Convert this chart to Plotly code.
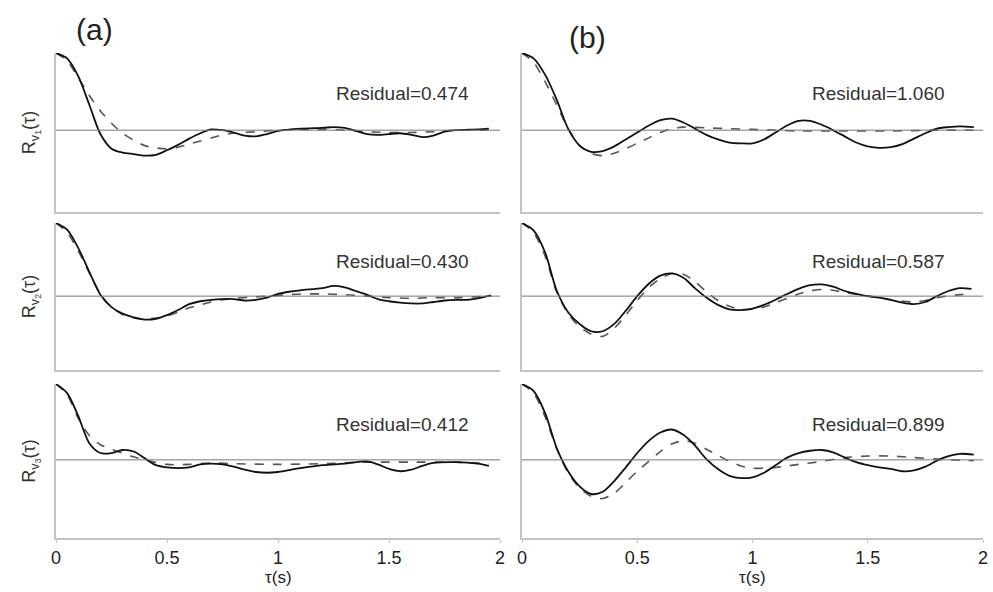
import plotly.graph_objects as go

# Lag axis (seconds) shared by the early/late sample points
tau_a1 = [0, 0.05, 0.10, 0.15, 0.20, 0.25, 0.30, 0.35, 0.40, 0.45, 0.50, 0.55, 0.60, 0.65, 0.70,
          0.75, 0.80, 0.85, 0.90, 0.95, 1.00, 1.10, 1.20, 1.25, 1.30, 1.35, 1.40, 1.45, 1.50,
          1.55, 1.60, 1.65, 1.70, 1.75, 1.80, 1.90, 1.95]
meas_a1 = [1.0, 0.93, 0.70, 0.33, -0.05, -0.24, -0.29, -0.31, -0.33, -0.32, -0.26, -0.19, -0.11,
           -0.04, 0.01, 0.0, -0.03, -0.07, -0.08, -0.05, -0.01, 0.02, 0.03, 0.04, 0.03, -0.01,
           -0.05, -0.06, -0.05, -0.04, -0.06, -0.09, -0.07, -0.02, 0.0, 0.01, 0.02]
tau_a1_fit = [0, 0.05, 0.10, 0.15, 0.20, 0.25, 0.30, 0.35, 0.40, 0.45, 0.50, 0.55, 0.60, 0.65, 0.70,
              0.75, 0.80, 0.90, 1.00, 1.10, 1.20, 1.30, 1.40, 1.50, 1.60, 1.70, 1.80, 1.95]
fit_a1 = [1.0, 0.90, 0.68, 0.45, 0.25, 0.09, -0.04, -0.13, -0.20, -0.23, -0.24, -0.22, -0.18,
          -0.14, -0.10, -0.06, -0.04, -0.02, 0.0, 0.01, 0.01, 0.0, -0.02, -0.03, -0.03, -0.02,
          0.0, 0.0]

tau_a2 = [0, 0.05, 0.10, 0.15, 0.20, 0.25, 0.30, 0.35, 0.40, 0.45, 0.50, 0.55, 0.60, 0.65, 0.70,
          0.75, 0.80, 0.85, 0.90, 0.95, 1.00, 1.05, 1.10, 1.20, 1.25, 1.30, 1.35, 1.40, 1.45,
          1.50, 1.55, 1.60, 1.65, 1.70, 1.75, 1.80, 1.85, 1.90, 1.96]
meas_a2 = [1.0, 0.91, 0.66, 0.33, 0.02, -0.15, -0.24, -0.29, -0.32, -0.31, -0.26, -0.19, -0.11,
           -0.07, -0.05, -0.04, -0.04, -0.06, -0.05, -0.02, 0.03, 0.06, 0.08, 0.11, 0.14, 0.12,
           0.07, 0.02, -0.04, -0.07, -0.09, -0.10, -0.10, -0.08, -0.06, -0.05, -0.05, -0.03, 0.01]
tau_a2_fit = [0, 0.05, 0.10, 0.15, 0.20, 0.25, 0.30, 0.35, 0.40, 0.45, 0.50, 0.55, 0.60, 0.65,
              0.70, 0.75, 0.80, 0.90, 1.00, 1.10, 1.20, 1.30, 1.40, 1.50, 1.60, 1.70, 1.80, 1.96]
fit_a2 = [1.0, 0.87, 0.62, 0.32, 0.03, -0.15, -0.25, -0.30, -0.31, -0.30, -0.27, -0.22, -0.16,
          -0.12, -0.08, -0.05, -0.03, -0.01, 0.01, 0.03, 0.03, 0.02, 0.0, -0.02, -0.03, -0.02,
          -0.02, 0.0]

tau_a3 = [0, 0.05, 0.10, 0.15, 0.20, 0.25, 0.30, 0.35, 0.40, 0.45, 0.50, 0.55, 0.60, 0.65, 0.70,
          0.75, 0.80, 0.85, 0.90, 0.95, 1.00, 1.10, 1.20, 1.30, 1.40, 1.45, 1.50, 1.55, 1.60,
          1.65, 1.70, 1.80, 1.90, 1.95]
meas_a3 = [1.0, 0.88, 0.58, 0.22, 0.09, 0.09, 0.13, 0.11, 0.02, -0.07, -0.10, -0.11, -0.10,
           -0.06, -0.05, -0.06, -0.09, -0.13, -0.16, -0.17, -0.16, -0.11, -0.07, -0.05, -0.02,
           -0.06, -0.12, -0.15, -0.13, -0.08, -0.04, -0.03, -0.05, -0.08]
tau_a3_fit = [0, 0.05, 0.10, 0.15, 0.20, 0.25, 0.30, 0.35, 0.40, 0.50, 0.60, 0.70, 0.80, 1.00,
              1.20, 1.40, 1.50, 1.60, 1.80, 1.95]
fit_a3 = [1.0, 0.86, 0.55, 0.32, 0.20, 0.14, 0.09, 0.04, 0.0, -0.06, -0.06, -0.04, -0.05, -0.06,
          -0.05, -0.03, -0.03, -0.03, -0.03, -0.05]

tau_b1 = [0, 0.05, 0.10, 0.15, 0.20, 0.25, 0.30, 0.35, 0.40, 0.45, 0.50, 0.55, 0.60, 0.65, 0.70,
          0.75, 0.80, 0.85, 0.90, 0.95, 1.00, 1.05, 1.10, 1.15, 1.20, 1.25, 1.30, 1.35, 1.40,
          1.45, 1.50, 1.55, 1.60, 1.65, 1.70, 1.75, 1.80, 1.85, 1.90, 1.96]
meas_b1 = [1.0, 0.93, 0.72, 0.40, 0.02, -0.20, -0.28, -0.27, -0.21, -0.12, -0.03, 0.06, 0.13,
           0.15, 0.10, 0.02, -0.06, -0.12, -0.16, -0.17, -0.17, -0.12, -0.03, 0.06, 0.12, 0.12,
           0.07, 0.0, -0.08, -0.16, -0.21, -0.23, -0.22, -0.18, -0.11, -0.04, 0.02, 0.04, 0.05,
           0.04]
tau_b1_fit = [0, 0.05, 0.10, 0.15, 0.20, 0.25, 0.30, 0.35, 0.40, 0.45, 0.50, 0.55, 0.60, 0.65,
              0.70, 0.80, 0.90, 1.00, 1.10, 1.20, 1.40, 1.60, 1.80, 1.96]
fit_b1 = [1.0, 0.88, 0.63, 0.33, 0.02, -0.20, -0.30, -0.33, -0.30, -0.24, -0.17, -0.10, -0.03,
          0.02, 0.04, 0.03, 0.02, 0.01, 0.0, -0.01, -0.01, -0.01, 0.0, 0.0]

tau_b2 = [0, 0.05, 0.10, 0.15, 0.20, 0.25, 0.30, 0.35, 0.40, 0.45, 0.50, 0.55, 0.60, 0.65, 0.70,
          0.75, 0.80, 0.85, 0.90, 0.95, 1.00, 1.05, 1.10, 1.15, 1.20, 1.25, 1.30, 1.35, 1.40,
          1.45, 1.50, 1.55, 1.60, 1.65, 1.70, 1.75, 1.80, 1.85, 1.90, 1.95]
meas_b2 = [1.0, 0.90, 0.60, 0.08, -0.22, -0.38, -0.48, -0.48, -0.38, -0.20, 0.0, 0.17, 0.28,
           0.31, 0.25, 0.11, -0.02, -0.12, -0.18, -0.19, -0.17, -0.12, -0.05, 0.03, 0.10, 0.15,
           0.16, 0.13, 0.07, 0.03, 0.0, -0.02, -0.05, -0.09, -0.11, -0.08, 0.0, 0.07, 0.11, 0.10]
tau_b2_fit = [0, 0.05, 0.10, 0.15, 0.20, 0.25, 0.30, 0.35, 0.40, 0.45, 0.50, 0.55, 0.60, 0.65,
              0.70, 0.75, 0.80, 0.85, 0.90, 0.95, 1.00, 1.05, 1.10, 1.15, 1.20, 1.25, 1.30, 1.35,
              1.40, 1.50, 1.60, 1.70, 1.75, 1.80, 1.90, 1.95]
fit_b2 = [1.0, 0.87, 0.55, 0.06, -0.24, -0.42, -0.52, -0.55, -0.44, -0.26, -0.06, 0.12, 0.24,
          0.31, 0.30, 0.20, 0.06, -0.06, -0.14, -0.18, -0.18, -0.15, -0.09, -0.03, 0.03, 0.07,
          0.09, 0.08, 0.05, 0.0, -0.05, -0.08, -0.06, -0.02, 0.02, 0.02]

tau_b3 = [0, 0.05, 0.10, 0.15, 0.20, 0.25, 0.30, 0.35, 0.40, 0.45, 0.50, 0.55, 0.60, 0.65, 0.70,
          0.75, 0.80, 0.85, 0.90, 0.95, 1.00, 1.05, 1.10, 1.15, 1.20, 1.25, 1.30, 1.35, 1.40,
          1.45, 1.50, 1.55, 1.60, 1.65, 1.70, 1.75, 1.80, 1.85, 1.90, 1.96]
meas_b3 = [1.0, 0.91, 0.62, 0.16, -0.15, -0.35, -0.45, -0.42, -0.28, -0.10, 0.09, 0.25, 0.36,
           0.40, 0.33, 0.19, 0.01, -0.12, -0.21, -0.24, -0.23, -0.17, -0.07, 0.03, 0.09, 0.12,
           0.13, 0.10, 0.03, -0.03, -0.07, -0.10, -0.12, -0.15, -0.14, -0.09, -0.01, 0.05, 0.08,
           0.07]
tau_b3_fit = [0, 0.05, 0.10, 0.15, 0.20, 0.25, 0.30, 0.35, 0.40, 0.45, 0.50, 0.55, 0.60, 0.65,
              0.70, 0.75, 0.80, 0.85, 0.90, 0.95, 1.00, 1.05, 1.10, 1.20, 1.30, 1.40, 1.50, 1.60,
              1.70, 1.80, 1.96]
fit_b3 = [1.0, 0.88, 0.57, 0.15, -0.17, -0.37, -0.48, -0.51, -0.44, -0.30, -0.15, -0.02, 0.11,
          0.21, 0.25, 0.22, 0.14, 0.06, -0.02, -0.08, -0.11, -0.11, -0.10, -0.06, -0.02, 0.03,
          0.05, 0.05, 0.03, 0.01, -0.01]

residuals_a = ["0.474", "0.430", "0.412"]
residuals_b = ["1.060", "0.587", "0.899"]
y_titles = ["R<sub>v<sub>1</sub></sub>(τ)", "R<sub>v<sub>2</sub></sub>(τ)", "R<sub>v<sub>3</sub></sub>(τ)"]
x_ticks = [0, 0.5, 1, 1.5, 2]
x_tick_text = ["0", "0.5", "1", "1.5", "2"]
x_title = "τ(s)"

panels = [
    # (row, col, tau measured, measured, tau fit, fit, residual)
    (0, 0, tau_a1, meas_a1, tau_a1_fit, fit_a1, residuals_a[0]),
    (1, 0, tau_a2, meas_a2, tau_a2_fit, fit_a2, residuals_a[1]),
    (2, 0, tau_a3, meas_a3, tau_a3_fit, fit_a3, residuals_a[2]),
    (0, 1, tau_b1, meas_b1, tau_b1_fit, fit_b1, residuals_b[0]),
    (1, 1, tau_b2, meas_b2, tau_b2_fit, fit_b2, residuals_b[1]),
    (2, 1, tau_b3, meas_b3, tau_b3_fit, fit_b3, residuals_b[2]),
]

W, H = 993, 592
FONT = "Liberation Sans, Arial, Helvetica, sans-serif"
col_px = [(56, 500), (522, 983)]
row_px = [(53, 212), (223, 370), (384, 538)]
row_ymin = [-1.06, -1.01, -1.03]

fig = go.Figure()
layout = dict(
    width=W, height=H, margin=dict(l=0, r=0, t=0, b=0, autoexpand=False),
    paper_bgcolor="white", plot_bgcolor="white", showlegend=False,
    font=dict(family=FONT, color="#222"),
)
shapes, annotations = [], []

for k, (r, c, tx, ym, tf, yf, res) in enumerate(panels):
    idx = k + 1
    xa = "x" if idx == 1 else f"x{idx}"
    ya = "y" if idx == 1 else f"y{idx}"
    xd = [col_px[c][0] / W, col_px[c][1] / W]
    yd = [1 - row_px[r][1] / H, 1 - row_px[r][0] / H]
    bottom = r == 2
    layout["xaxis" if idx == 1 else f"xaxis{idx}"] = dict(
        domain=xd, anchor=ya, range=[0, 2], showgrid=False, zeroline=False, automargin=False,
        showline=True, linecolor="#c4c4c4", linewidth=1.5,
        tickvals=x_ticks, ticktext=x_tick_text, showticklabels=bottom,
        ticks="outside" if bottom else "", ticklen=3, tickcolor="#c4c4c4",
        tickfont=dict(size=18, color="#222"),
    )
    yaxis = dict(
        domain=yd, anchor=xa, range=[row_ymin[r], 1.0], showgrid=False, zeroline=False,
        automargin=False, showline=True, linecolor="#c4c4c4", linewidth=1.5,
        showticklabels=False, ticks="",
    )
    if c == 0:
        yaxis["title"] = dict(text=y_titles[r], font=dict(size=18, color="#333"), standoff=14)
    layout["yaxis" if idx == 1 else f"yaxis{idx}"] = yaxis
    # zero reference line
    shapes.append(dict(type="line", xref=xa, yref=ya, x0=0, x1=2, y0=0, y1=0,
                       line=dict(color="#777", width=1)))
    # fitted (dashed) and measured (solid) correlation
    fig.add_trace(go.Scatter(x=tf, y=yf, xaxis=xa, yaxis=ya, mode="lines",
                             line=dict(color="#555", width=1.6, dash="dash", shape="spline",
                                       smoothing=0.8)))
    fig.add_trace(go.Scatter(x=tx, y=ym, xaxis=xa, yaxis=ya, mode="lines",
                             line=dict(color="#111", width=1.8, shape="spline", smoothing=0.8)))
    annotations.append(dict(xref=xa, yref=ya, x=1.25, y=0.47, xanchor="left", yanchor="middle",
                            text=f"Residual={res}", showarrow=False,
                            font=dict(size=19, color="#333")))
    if bottom:
        annotations.append(dict(xref=xa, yref="paper", x=1.0, y=1 - 577 / H, xanchor="center",
                                yanchor="middle", text=x_title, showarrow=False,
                                font=dict(size=17, color="#222")))

annotations.append(dict(xref="paper", yref="paper", x=94 / W, y=1 - 30 / H, text="(a)",
                        xanchor="center", yanchor="middle",
                        showarrow=False, font=dict(size=30, color="#222")))
annotations.append(dict(xref="paper", yref="paper", x=587 / W, y=1 - 37 / H, text="(b)",
                        xanchor="center", yanchor="middle",
                        showarrow=False, font=dict(size=30, color="#222")))
layout["shapes"] = shapes
layout["annotations"] = annotations
fig.update_layout(**layout)
fig.write_html("out.html")
